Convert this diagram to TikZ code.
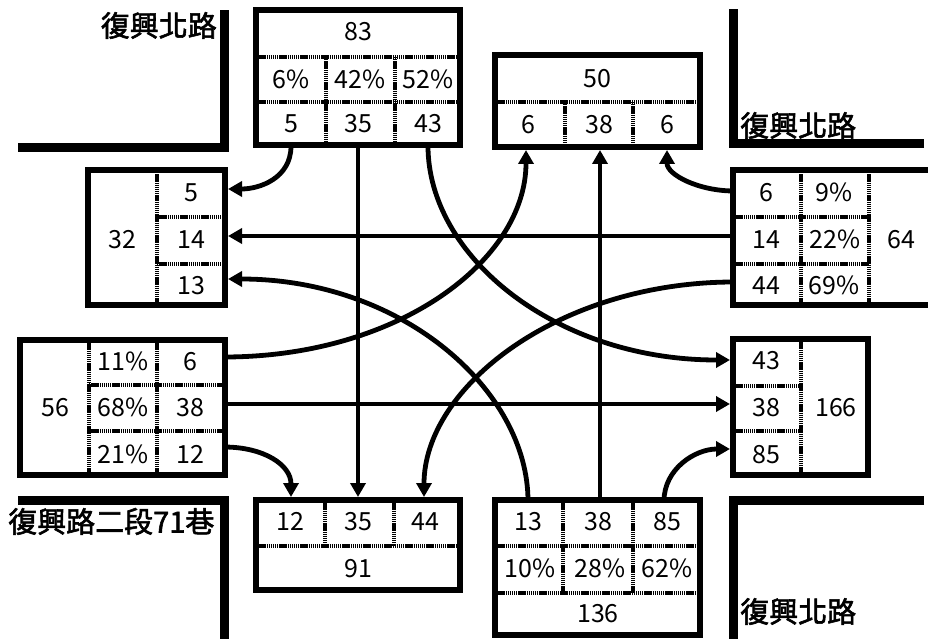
\documentclass[tikz,border=0pt]{standalone}
\usepackage{fontspec}
\setmainfont{Noto Sans CJK TC}
\newfontfamily\lblfont{Noto Sans CJK TC}[FakeBold=2]
\usetikzlibrary{arrows.meta}
\begin{document}
\begin{tikzpicture}[x=1pt,y=-1pt,
  box/.style={draw,line width=6pt,rectangle,inner sep=0pt,outer sep=0pt},
  div/.style={line width=3.5pt,dash pattern=on 1.4pt off 0.7pt},
  road/.style={line width=9pt,line join=miter},
  flow/.style={line width=4.8pt,-{Triangle[length=14pt,width=15pt]}},
  num/.style={font=\fontsize{25}{25}\selectfont,inner sep=0pt,text height=17.5pt,text depth=0pt},
  lbl/.style={font=\fontsize{29}{29}\selectfont\lblfont,inner sep=0pt,text height=22pt,text depth=3pt}]
\useasboundingbox (0,0) rectangle (928,639);
\clip (0,0) rectangle (928,639);

% roads
\draw[road] (18,148) -| (224,10);
\draw[road] (924,144) -| (733,9);
\draw[road] (18,500) -| (224,645);
\draw[road] (924,500) -| (733,645);
\node[lbl,anchor=east] (lTL) at (217,27) {復興北路};
\node[lbl,anchor=west] (lTR) at (740,127) {復興北路};
\node[lbl,anchor=west] (lBL) at (8,523) {復興路二段71巷};
\node[lbl,anchor=west] (lBR) at (740,613) {復興北路};

% boxes
\node[box,minimum width=204pt,minimum height=135pt] (N) at (358,77.5) {};
\node[box,minimum width=205pt,minimum height=92pt] (M) at (597.5,101) {};
\node[box,minimum width=137pt,minimum height=135pt] (W) at (156.5,237.5) {};
\node[box,minimum width=210pt,minimum height=135pt,anchor=west] (E) at (733,237.5) {};
\node[box,minimum width=205pt,minimum height=135pt] (V) at (122.5,407.5) {};
\node[box,minimum width=135pt,minimum height=136pt] (F) at (800.5,407) {};
\node[box,minimum width=204pt,minimum height=90pt] (S) at (358,545) {};
\node[box,minimum width=205pt,minimum height=135pt] (T) at (597.5,567.5) {};

% dividers
\draw[div] (256,57) -- (460,57);
\draw[div] (256,102) -- (460,102);
\draw[div] (326,57) -- (326,145);
\draw[div] (395,57) -- (395,145);

\draw[div] (495,102) -- (700,102);
\draw[div] (565,102) -- (565,147);
\draw[div] (633,102) -- (633,147);

\draw[div] (157,170) -- (157,305);
\draw[div] (157,217) -- (225,217);
\draw[div] (157,264) -- (225,264);

\draw[div] (801,170) -- (801,305);
\draw[div] (869,170) -- (869,305);
\draw[div] (733,217) -- (869,217);
\draw[div] (733,264) -- (869,264);

\draw[div] (89,340) -- (89,475);
\draw[div] (157,340) -- (157,475);
\draw[div] (89,385) -- (225,385);
\draw[div] (89,431) -- (225,431);

\draw[div] (801,339) -- (801,475);
\draw[div] (733,386) -- (801,386);
\draw[div] (733,431) -- (801,431);

\draw[div] (256,546) -- (460,546);
\draw[div] (325,500) -- (325,546);
\draw[div] (394,500) -- (394,546);

\draw[div] (495,546) -- (700,546);
\draw[div] (495,593) -- (700,593);
\draw[div] (563,500) -- (563,593);
\draw[div] (633,500) -- (633,593);

% texts
\node[num] (n0) at (358,32) {83};
\node[num] (n1) at (291,80) {6\%};
\node[num] (n2) at (360,80) {42\%};
\node[num] (n3) at (428,80) {52\%};
\node[num] (n4) at (291,124) {5};
\node[num] (n5) at (358,124) {35};
\node[num] (n6) at (428,124) {43};

\node[num] (m0) at (597,79) {50};
\node[num] (m1) at (528,125) {6};
\node[num] (m2) at (599,125) {38};
\node[num] (m3) at (667,125) {6};

\node[num] (w0) at (122,240) {32};
\node[num] (w1) at (191,193) {5};
\node[num] (w2) at (191,240) {14};
\node[num] (w3) at (191,286) {13};

\node[num] (e1) at (766,193) {6};
\node[num] (e2) at (834,193) {9\%};
\node[num] (e3) at (766,240) {14};
\node[num] (e4) at (835,240) {22\%};
\node[num] (e5) at (766,286) {44};
\node[num] (e6) at (834,286) {69\%};
\node[num] (e0) at (901,240) {64};

\node[num] (v0) at (55,408) {56};
\node[num] (v1) at (123,362) {11\%};
\node[num] (v2) at (190,362) {6};
\node[num] (v3) at (123,408) {68\%};
\node[num] (v4) at (190,408) {38};
\node[num] (v5) at (123,455) {21\%};
\node[num] (v6) at (190,455) {12};

\node[num] (f1) at (766,361) {43};
\node[num] (f2) at (766,408) {38};
\node[num] (f3) at (766,455) {85};
\node[num] (f0) at (836,408) {166};

\node[num] (s1) at (290,522) {12};
\node[num] (s2) at (358,522) {35};
\node[num] (s3) at (425,522) {44};
\node[num] (s0) at (358,569) {91};

\node[num] (t1) at (528,522) {13};
\node[num] (t2) at (598,522) {38};
\node[num] (t3) at (667,522) {85};
\node[num] (t4) at (530,569) {10\%};
\node[num] (t5) at (600,569) {28\%};
\node[num] (t6) at (667,569) {62\%};
\node[num] (t0) at (598,614) {136};

% ports
\coordinate (pN1) at (291,146);
\coordinate (pN2) at (358,146);
\coordinate (pN3) at (428,146);
\coordinate (pW1) at (228,189);
\coordinate (pW2) at (228,236);
\coordinate (pW3) at (228,279);
\coordinate (pE1) at (734,191);
\coordinate (pE2) at (734,236);
\coordinate (pE3) at (734,282);
\coordinate (pM1) at (526,150);
\coordinate (pM2) at (600,150);
\coordinate (pM3) at (667,150);
\coordinate (pV1) at (224,357);
\coordinate (pV2) at (224,404);
\coordinate (pV3) at (224,447);
\coordinate (pF1) at (730,360);
\coordinate (pF2) at (730,404);
\coordinate (pF3) at (730,449);
\coordinate (pS1) at (291,497);
\coordinate (pS2) at (358,497);
\coordinate (pS3) at (424,497);
\coordinate (pT1) at (528,501);
\coordinate (pT2) at (600,501);
\coordinate (pT3) at (664,501);

% flows
\draw[flow] (pN1) .. controls +(0,32) and +(32,0) .. (pW1);
\draw[flow] (pN2) -- (pS2);
\draw[flow] (pN3) .. controls +(0,110) and +(-175,0) .. (pF1);
\draw[flow] (pE1) .. controls +(-35,0) and +(0,25) .. (pM3);
\draw[flow] (pE2) -- (pW2);
\draw[flow] (pE3) .. controls +(-175,0) and +(0,-110) .. (pS3);
\draw[flow] (pV1) .. controls +(175,0) and +(0,110) .. (pM1);
\draw[flow] (pV2) -- (pF2);
\draw[flow] (pV3) .. controls +(40,0) and +(0,-32) .. (pS1);
\draw[flow] (pT1) .. controls +(0,-110) and +(175,0) .. (pW3);
\draw[flow] (pT2) -- (pM2);
\draw[flow] (pT3) .. controls +(0,-32) and +(-35,0) .. (pF3);
\end{tikzpicture}
\end{document}
